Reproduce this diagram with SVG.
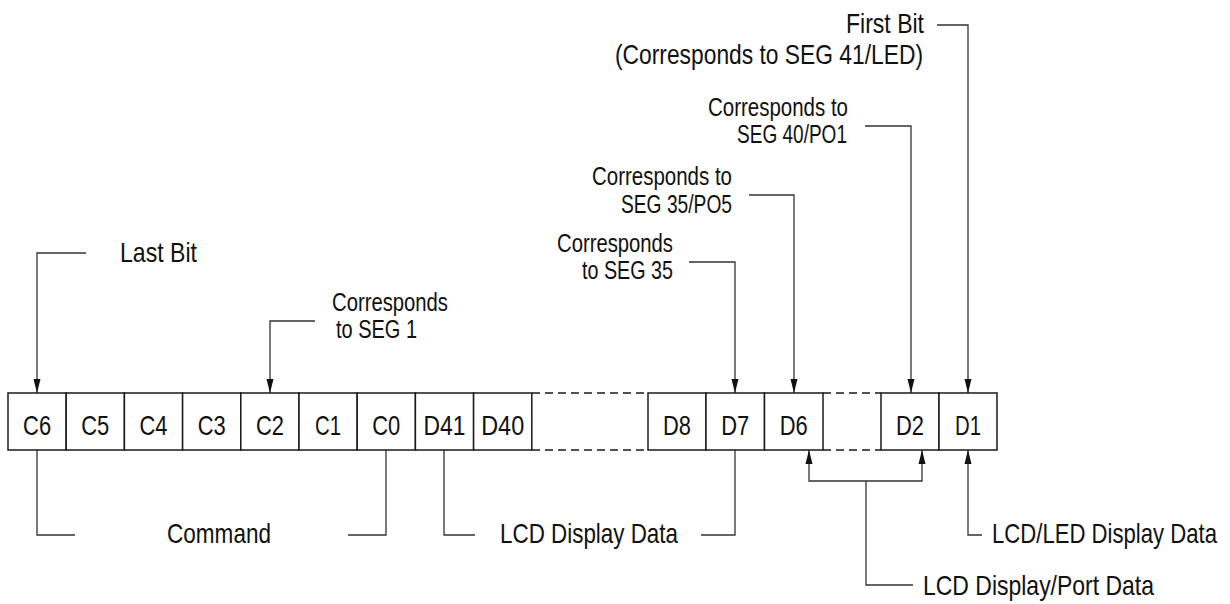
<svg xmlns="http://www.w3.org/2000/svg" width="1230" height="604" viewBox="0 0 1230 604">
<defs>
<style>
.cell{fill:#fff;stroke:#1a1a1a;stroke-width:1.5}
.ct{font-family:"Liberation Sans Narrow","Liberation Sans",Arial,sans-serif;font-size:28px;fill:#111;text-anchor:middle}
.big{font-family:"Liberation Sans Narrow","Liberation Sans",Arial,sans-serif;font-size:28px;fill:#111}
.small{font-family:"Liberation Sans Narrow","Liberation Sans",Arial,sans-serif;font-size:25px;fill:#111}
.end{text-anchor:end}
.ln{fill:none;stroke:#333;stroke-width:1.3}
.dash{fill:none;stroke:#1a1a1a;stroke-width:1.5;stroke-dasharray:8 5}
</style>
<marker id="arr" markerUnits="userSpaceOnUse" markerWidth="14" markerHeight="8" refX="14" refY="4" orient="auto">
<path d="M0,0.5 L14,4 L0,7.5 z" fill="#111"/>
</marker>
</defs>
<rect width="1230" height="604" fill="#fff"/>

<g id="connectors">
<path class="ln" d="M86,253 H37 V393" marker-end="url(#arr)"/>
<path class="ln" d="M315,321 H270 V393" marker-end="url(#arr)"/>
<path class="ln" d="M689,262 H735 V393" marker-end="url(#arr)"/>
<path class="ln" d="M749,195 H794 V393" marker-end="url(#arr)"/>
<path class="ln" d="M865,126 H911 V393" marker-end="url(#arr)"/>
<path class="ln" d="M937,25 H968 V393" marker-end="url(#arr)"/>
<path class="ln" d="M37,450 V535 H75"/>
<path class="ln" d="M348,535 H386 V450"/>
<path class="ln" d="M444,450 V535 H475"/>
<path class="ln" d="M701,535 H735 V450"/>
<path class="ln" d="M982,535 H968 V450" marker-end="url(#arr)"/>
<path class="ln" d="M866,481 H809 V450" marker-end="url(#arr)"/>
<path class="ln" d="M866,481 H922 V450" marker-end="url(#arr)"/>
<path class="ln" d="M866,481 V585 H913"/>
<path class="dash" d="M532,393 H648 M532,450 H648 M823,393 H881 M823,450 H881"/>
</g>

<g id="cell-C6"><rect class="cell" x="8" y="393" width="58.2" height="57"/><text class="ct" x="37.1" y="435" textLength="28" lengthAdjust="spacingAndGlyphs">C6</text></g>
<g id="cell-C5"><rect class="cell" x="66.2" y="393" width="58.2" height="57"/><text class="ct" x="95.3" y="435" textLength="28" lengthAdjust="spacingAndGlyphs">C5</text></g>
<g id="cell-C4"><rect class="cell" x="124.4" y="393" width="58.2" height="57"/><text class="ct" x="153.5" y="435" textLength="28" lengthAdjust="spacingAndGlyphs">C4</text></g>
<g id="cell-C3"><rect class="cell" x="182.6" y="393" width="58.2" height="57"/><text class="ct" x="211.7" y="435" textLength="28" lengthAdjust="spacingAndGlyphs">C3</text></g>
<g id="cell-C2"><rect class="cell" x="240.8" y="393" width="58.2" height="57"/><text class="ct" x="269.9" y="435" textLength="28" lengthAdjust="spacingAndGlyphs">C2</text></g>
<g id="cell-C1"><rect class="cell" x="299" y="393" width="58.2" height="57"/><text class="ct" x="328.1" y="435" textLength="26" lengthAdjust="spacingAndGlyphs">C1</text></g>
<g id="cell-C0"><rect class="cell" x="357.2" y="393" width="58.2" height="57"/><text class="ct" x="386.3" y="435" textLength="28" lengthAdjust="spacingAndGlyphs">C0</text></g>
<g id="cell-D41"><rect class="cell" x="415.4" y="393" width="58.2" height="57"/><text class="ct" x="444.5" y="435" textLength="42" lengthAdjust="spacingAndGlyphs">D41</text></g>
<g id="cell-D40"><rect class="cell" x="473.6" y="393" width="58.2" height="57"/><text class="ct" x="502.7" y="435" textLength="43" lengthAdjust="spacingAndGlyphs">D40</text></g>
<g id="cell-D8"><rect class="cell" x="648" y="393" width="58" height="57"/><text class="ct" x="677" y="435" textLength="28" lengthAdjust="spacingAndGlyphs">D8</text></g>
<g id="cell-D7"><rect class="cell" x="706" y="393" width="58.5" height="57"/><text class="ct" x="735.2" y="435" textLength="28" lengthAdjust="spacingAndGlyphs">D7</text></g>
<g id="cell-D6"><rect class="cell" x="764.5" y="393" width="58.5" height="57"/><text class="ct" x="793.7" y="435" textLength="28" lengthAdjust="spacingAndGlyphs">D6</text></g>
<g id="cell-D2"><rect class="cell" x="881" y="393" width="58" height="57"/><text class="ct" x="910" y="435" textLength="28" lengthAdjust="spacingAndGlyphs">D2</text></g>
<g id="cell-D1"><rect class="cell" x="939" y="393" width="58" height="57"/><text class="ct" x="968" y="435" textLength="26" lengthAdjust="spacingAndGlyphs">D1</text></g>

<g id="label-last-bit"><text class="big" x="120" y="262" textLength="77" lengthAdjust="spacingAndGlyphs">Last Bit</text></g>
<g id="label-seg1"><text class="small" x="332" y="311" textLength="116" lengthAdjust="spacingAndGlyphs">Corresponds</text><text class="small" x="336" y="338" textLength="81" lengthAdjust="spacingAndGlyphs">to SEG 1</text></g>
<g id="label-seg35"><text class="small end" x="673" y="252" textLength="116" lengthAdjust="spacingAndGlyphs">Corresponds</text><text class="small end" x="673" y="279" textLength="91" lengthAdjust="spacingAndGlyphs">to SEG 35</text></g>
<g id="label-seg35-po5"><text class="small end" x="732" y="185" textLength="140" lengthAdjust="spacingAndGlyphs">Corresponds to</text><text class="small end" x="732" y="213" textLength="111" lengthAdjust="spacingAndGlyphs">SEG 35/PO5</text></g>
<g id="label-seg40-po1"><text class="small end" x="848" y="116" textLength="140" lengthAdjust="spacingAndGlyphs">Corresponds to</text><text class="small end" x="847" y="143" textLength="110" lengthAdjust="spacingAndGlyphs">SEG 40/PO1</text></g>
<g id="label-first-bit"><text class="big end" x="924" y="33" textLength="78" lengthAdjust="spacingAndGlyphs">First Bit</text><text class="big end" x="923" y="64" textLength="308" lengthAdjust="spacingAndGlyphs">(Corresponds to SEG 41/LED)</text></g>
<g id="label-command"><text class="big" x="167" y="543" textLength="104" lengthAdjust="spacingAndGlyphs">Command</text></g>
<g id="label-lcd-display"><text class="big" x="500" y="543" textLength="178" lengthAdjust="spacingAndGlyphs">LCD Display Data</text></g>
<g id="label-lcd-led"><text class="big" x="992" y="543" textLength="225" lengthAdjust="spacingAndGlyphs">LCD/LED Display Data</text></g>
<g id="label-lcd-port"><text class="big" x="923" y="595" textLength="231" lengthAdjust="spacingAndGlyphs">LCD Display/Port Data</text></g>
</svg>
